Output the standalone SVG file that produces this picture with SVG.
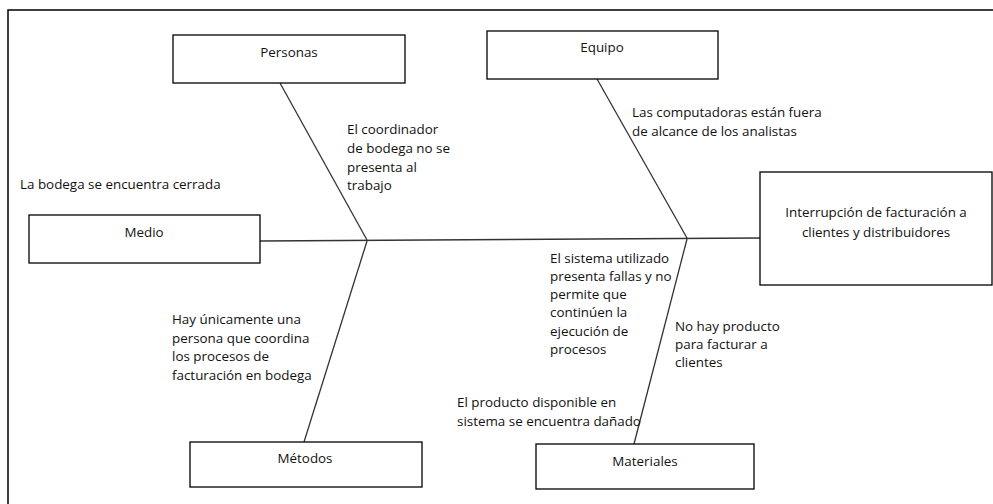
<svg xmlns="http://www.w3.org/2000/svg" width="993" height="504" viewBox="0 0 993 504">
<style>
.box{fill:#fff;stroke:#000;stroke-width:1.3}
.ln{stroke:#333;stroke-width:1.3;fill:none}
text{font-family:"Open Sans","Liberation Sans",sans-serif;font-size:13.4px;fill:#111}
.c{text-anchor:middle}
</style>
<rect width="993" height="504" fill="#fff"/>
<path d="M8,504 V10 H993" fill="none" stroke="#000" stroke-width="1.5"/>
<g id="connectors">
<line class="ln" x1="260" y1="241" x2="760" y2="238"/>
<line class="ln" x1="280" y1="83" x2="367" y2="240"/>
<line class="ln" x1="367" y1="241" x2="304" y2="442"/>
<line class="ln" x1="597" y1="79" x2="687" y2="238"/>
<line class="ln" x1="687" y1="239" x2="634" y2="444"/>
</g>
<g id="personas"><rect class="box" x="173" y="35" width="232" height="48"/><text class="c" x="289" y="57">Personas</text></g>
<g id="equipo"><rect class="box" x="487" y="31" width="231" height="48"/><text class="c" x="602" y="52">Equipo</text></g>
<g id="medio"><rect class="box" x="29" y="215" width="231" height="48"/><text class="c" x="144" y="237">Medio</text></g>
<g id="metodos"><rect class="box" x="190" y="442" width="232" height="45"/><text class="c" x="305" y="463">Métodos</text></g>
<g id="materiales"><rect class="box" x="536" y="444" width="218" height="45"/><text class="c" x="645" y="466">Materiales</text></g>
<g id="efecto"><rect class="box" x="760" y="172" width="232" height="113"/><text class="c" x="876" y="217">Interrupción de facturación a</text><text class="c" x="876" y="237">clientes y distribuidores</text></g>
<g id="causas">
<text x="20" y="189">La bodega se encuentra cerrada</text>
<text x="347" y="134">El coordinador</text>
<text x="347" y="153">de bodega no se</text>
<text x="347" y="172">presenta al</text>
<text x="347" y="190">trabajo</text>
<text x="632" y="117">Las computadoras están fuera</text>
<text x="632" y="136">de alcance de los analistas</text>
<text x="550" y="263">El sistema utilizado</text>
<text x="550" y="281">presenta fallas y no</text>
<text x="550" y="299">permite que</text>
<text x="550" y="317">continúen la</text>
<text x="550" y="336">ejecución de</text>
<text x="550" y="354">procesos</text>
<text x="675" y="331">No hay producto</text>
<text x="675" y="349">para facturar a</text>
<text x="675" y="367">clientes</text>
<text x="457" y="407">El producto disponible en</text>
<text x="457" y="426">sistema se encuentra dañado</text>
<text x="172" y="324">Hay únicamente una</text>
<text x="172" y="343">persona que coordina</text>
<text x="172" y="361">los procesos de</text>
<text x="172" y="380">facturación en bodega</text>
</g>
</svg>
